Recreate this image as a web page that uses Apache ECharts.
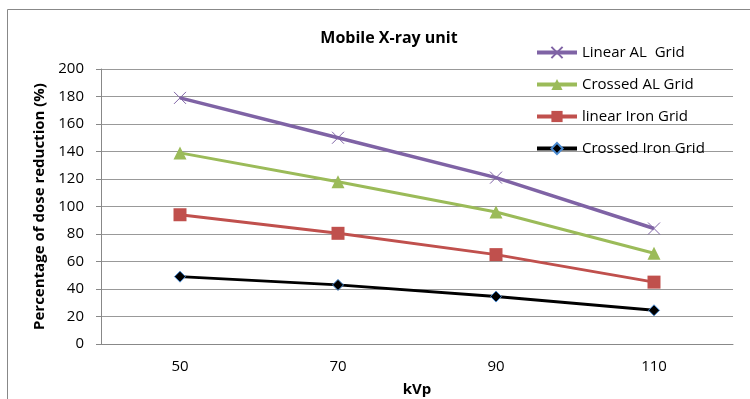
<!DOCTYPE html>
<html><head><meta charset="utf-8">
<script src="https://cdn.jsdelivr.net/npm/echarts@6/dist/echarts.min.js"></script>
<style>html,body{margin:0;padding:0;background:#fff}#c{width:750px;height:399px}</style>
</head><body><div id="c"></div>
<script>
const categories = ['50','70','90','110'];
const linearAL = [179, 150, 121, 84];
const crossedAL = [139, 118, 96, 66];
const linearIron = [94, 80.5, 65, 45];
const crossedIron = [49, 43, 34.5, 24.5];
const seriesNames = ['Linear AL  Grid','Crossed AL Grid','linear Iron Grid','Crossed Iron Grid'];
const FONT = 'Open Sans';
const chart = echarts.init(document.getElementById('c'));
const xPath = 'path://M0,0 L10,10 M10,0 L0,10';
chart.setOption({
  animation:false,
  textStyle:{fontFamily:FONT},
  title:{text:'Mobile X-ray unit',left:384,top:25,textAlign:'center',
    textStyle:{fontFamily:FONT,fontSize:16,fontWeight:'bold',color:'#000'}},
  graphic:[{type:'rect',shape:{x:7.5,y:9.5,width:800,height:420},
    style:{fill:'none',stroke:'#888',lineWidth:1},silent:true}],
  legend:{orient:'vertical',left:535,top:45,padding:0,itemGap:17,itemWidth:40,itemHeight:14,
    lineStyle:{width:4},
    textStyle:{fontFamily:FONT,fontSize:15,color:'#000'},
    data:seriesNames},
  grid:{left:101,top:69,width:632,height:275,outerBoundsMode:'none',containLabel:false},
  xAxis:{type:'category',data:categories,boundaryGap:true,
    axisLine:{lineStyle:{color:'#888',width:1}},axisTick:{show:false},
    axisLabel:{fontFamily:FONT,fontSize:15,color:'#000',margin:15},
    name:'kVp',nameLocation:'middle',nameGap:38,
    nameTextStyle:{fontFamily:FONT,fontSize:15,fontWeight:'bold',color:'#000'}},
  yAxis:{type:'value',min:0,max:200,interval:20,
    axisLine:{show:true,lineStyle:{color:'#888',width:1}},
    axisTick:{show:true,length:5,lineStyle:{color:'#888'}},
    splitLine:{lineStyle:{color:'#999',width:1}},
    axisLabel:{fontFamily:FONT,fontSize:15,color:'#000',margin:17},
    name:'Percentage of dose reduction (%)',nameLocation:'middle',nameGap:50,
    nameTextStyle:{fontFamily:FONT,fontSize:15,fontWeight:'bold',color:'#000'}},
  series:[
    {name:seriesNames[0],type:'line',data:linearAL,symbol:xPath,symbolSize:12,
      lineStyle:{color:'#7f63a5',width:3.5},
      itemStyle:{color:'#7f63a5',borderColor:'#7f63a5',borderWidth:1}},
    {name:seriesNames[1],type:'line',data:crossedAL,symbol:'triangle',symbolSize:13,
      lineStyle:{color:'#9bbb59',width:3},itemStyle:{color:'#9bbb59'}},
    {name:seriesNames[2],type:'line',data:linearIron,symbol:'rect',symbolSize:13,
      lineStyle:{color:'#c0504d',width:3},itemStyle:{color:'#c0504d'}},
    {name:seriesNames[3],type:'line',data:crossedIron,symbol:'diamond',symbolSize:11,
      lineStyle:{color:'#000',width:3},
      itemStyle:{color:'#000',borderColor:'#4a8ad0',borderWidth:1}}
  ]
});
</script></body></html>
